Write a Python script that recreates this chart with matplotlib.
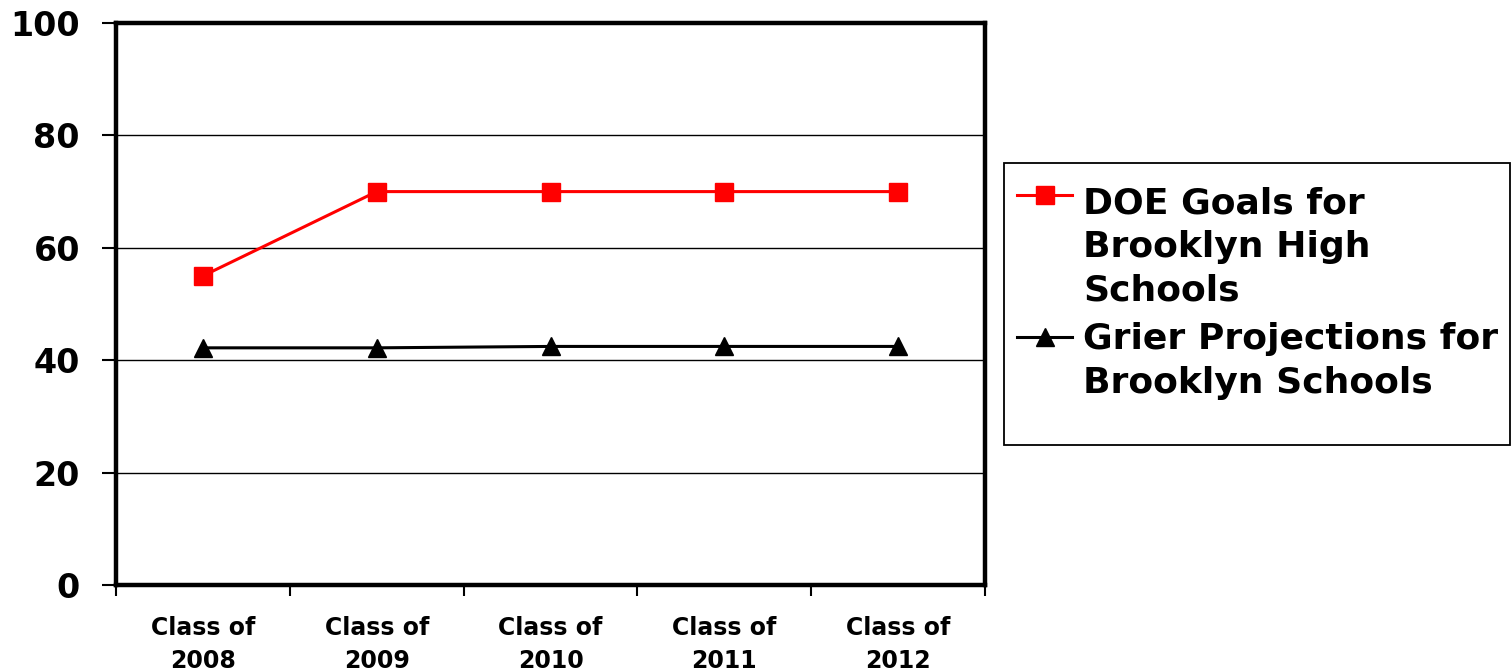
import matplotlib
matplotlib.use("Agg")
import matplotlib.pyplot as plt
from matplotlib.patches import Rectangle
from matplotlib.lines import Line2D

plt.rcParams['font.family'] = ['DejaVu Sans']
plt.rcParams['font.weight'] = 'bold'

# data
classes = ['Class of\n2008', 'Class of\n2009', 'Class of\n2010', 'Class of\n2011', 'Class of\n2012']
doe_goals = [55, 70, 70, 70, 70]
grier_proj = [42.2, 42.2, 42.45, 42.45, 42.45]
series_labels = ['DOE Goals for\nBrooklyn High\nSchools', 'Grier Projections for\nBrooklyn Schools']
series_colors = ['#ff0000', 'black']
series_markers = ['s', '^']

W, H = 1512, 671
fig = plt.figure(figsize=(W / 100, H / 100), dpi=100)
ax = fig.add_axes([116 / W, 1 - 585 / H, (985 - 116) / W, (585 - 23) / H])

x = list(range(len(classes)))
for vals, c, m in zip([doe_goals, grier_proj], series_colors, series_markers):
    ax.plot(x, vals, color=c, lw=2.2, marker=m, ms=13, mec=c, mfc=c, zorder=4)

ax.set_ylim(0, 100)
ax.set_xlim(-0.5, len(classes) - 0.5)
ax.set_yticks(range(0, 101, 20))
ax.yaxis.grid(True, color='black', lw=1.0)
ax.set_axisbelow(True)

ax.tick_params(axis='y', direction='out', length=10, width=1.5, pad=16,
               labelsize=24)

# category labels centred, tick marks at the category boundaries
ax.set_xticks(x)
ax.set_xticklabels(classes, fontsize=17, fontweight='bold', linespacing=1.5)
ax.tick_params(axis='x', which='major', length=0, pad=22)
ax.set_xticks([i - 0.5 for i in range(len(classes) + 1)], minor=True)
ax.tick_params(axis='x', which='minor', direction='out', length=8, width=1.5)

for s in ax.spines.values():
    s.set_linewidth(3.2)
    s.set_color('black')

# legend box drawn by hand so the keys sit on the first line of each label
fig.patches.append(Rectangle((1004 / W, 1 - 445 / H), 506 / W, 282 / H,
                             transform=fig.transFigure, fill=False,
                             ec='black', lw=1.3))
key_y = [195, 337]
first_base = [213, 349]
line_step = 44
for lbl, c, m, ky, by in zip(series_labels, series_colors, series_markers,
                             key_y, first_base):
    fig.add_artist(Line2D([1017 / W, 1072 / W], [1 - ky / H, 1 - ky / H],
                          transform=fig.transFigure, color=c, lw=2.2))
    fig.add_artist(Line2D([1045 / W], [1 - ky / H], transform=fig.transFigure,
                          marker=m, ms=13, color=c, mec=c, mfc=c, lw=0))
    for i, part in enumerate(lbl.split('\n')):
        fig.text(1083 / W, 1 - (by + i * line_step) / H, part,
                 fontsize=26, fontweight='bold', va='baseline', ha='left')

fig.savefig('out.png', dpi=100)
